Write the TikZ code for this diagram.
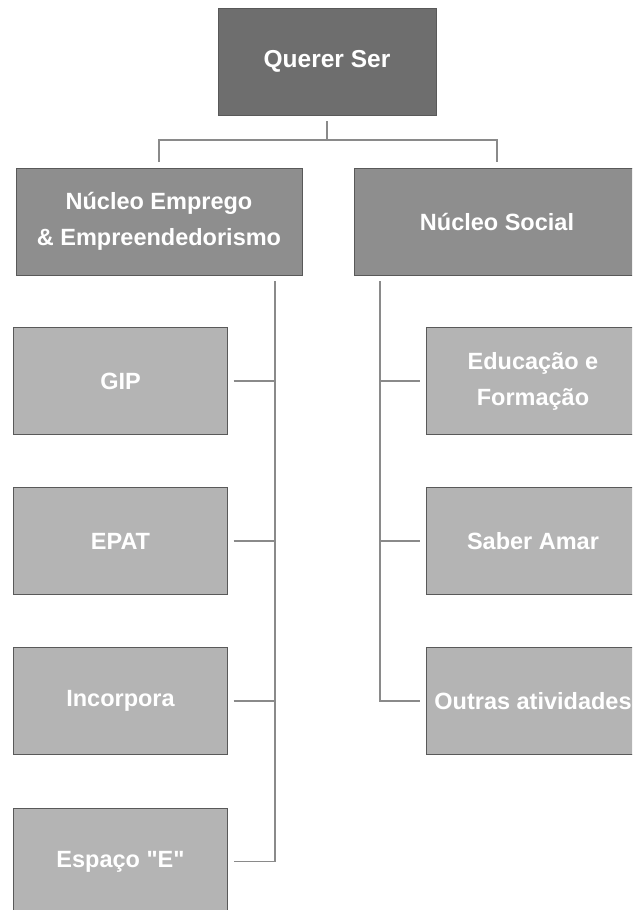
\documentclass[tikz,border=0pt]{standalone}
\usepackage{fontspec}
\setmainfont{Liberation Sans}
\definecolor{rootgray}{HTML}{6E6E6E}
\definecolor{midgray}{HTML}{8E8E8E}
\definecolor{leafgray}{HTML}{B4B4B4}
\definecolor{linegray}{HTML}{8A8A8A}
\begin{document}
\begin{tikzpicture}[
    x=1pt, y=-1pt,
    box/.style={rectangle, draw=black!65, line width=0.8pt, text=white, align=center,
        font=\bfseries\fontsize{23.5}{36}\selectfont, inner sep=0pt, outer sep=6pt},
    rootbox/.style={box, fill=rootgray, minimum width=218pt, minimum height=107pt,
        font=\bfseries\fontsize{24.5}{36}\selectfont},
    mainbox/.style={box, fill=midgray, minimum width=286pt, minimum height=107pt},
    leafbox/.style={box, fill=leafgray, minimum width=214pt, minimum height=107pt},
    link/.style={draw=linegray, line width=1.5pt}
]

\useasboundingbox (0,0) rectangle (632,910);
\clip (0,0) rectangle (632,910);

\node[rootbox] (root) at (327,61.5) {Querer Ser};

\node[mainbox] (nee) at (159,221.5) {Núcleo Emprego\\\& Empreendedorismo};
\node[mainbox] (ns) at (497,221.5) {Núcleo Social};

\node[leafbox] (gip) at (120.5,381) {GIP};
\node[leafbox] (epat) at (120.5,541) {EPAT};
\node[leafbox] (inc) at (120.5,701) {Incorpora};
\node[leafbox] (esp) at (120.5,861.5) {Espaço \textquotedbl E\textquotedbl};

\node[leafbox] (edu) at (533,381) {Educação e\\Formação};
\node[leafbox] (saber) at (533,541) {Saber Amar};
\node[leafbox] (out) at (533,701) {Outras atividades};

\coordinate (fork) at (327,140);
\coordinate (lsp) at (275,0);
\coordinate (rsp) at (380,0);

\draw[link] (root.south) -- (fork);
\draw[link] (nee.north) |- (fork) -| (ns.north);

\draw[link] (nee.south -| lsp) |- (esp.east);
\foreach \n in {gip,epat,inc}
    \draw[link] (\n.east) -- (\n.east -| lsp);

\draw[link] (ns.south -| rsp) |- (out.west);
\foreach \n in {edu,saber}
    \draw[link] (rsp |- \n.west) -- (\n.west);

\end{tikzpicture}
\end{document}
